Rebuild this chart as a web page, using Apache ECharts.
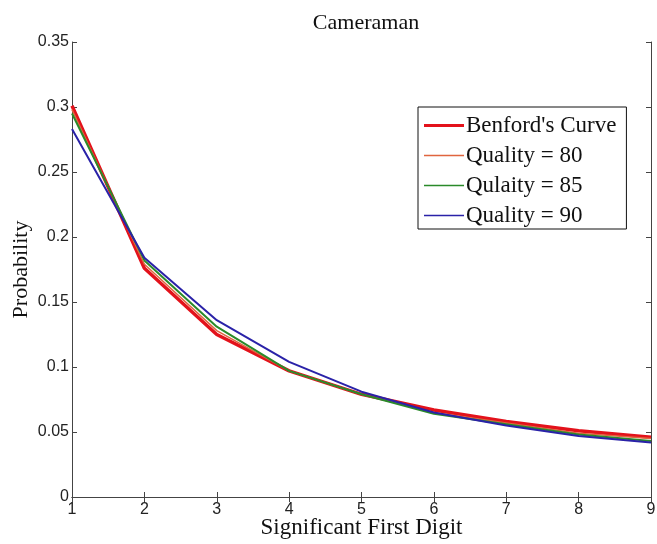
<!DOCTYPE html>
<html>
<head>
<meta charset="utf-8">
<script src="https://cdn.jsdelivr.net/npm/echarts@6/dist/echarts.min.js"></script>
<style>
  html, body { margin: 0; padding: 0; background: #fff; }
  #chart { width: 657px; height: 544px; }
</style>
</head>
<body>
<div id="chart"></div>
<script>
// first digits 1..9
const digits = [1, 2, 3, 4, 5, 6, 7, 8, 9]
const benford = [0.301, 0.176, 0.125, 0.097, 0.079, 0.067, 0.058, 0.051, 0.046]
const quality80 = [0.298, 0.179, 0.128, 0.097, 0.079, 0.065, 0.057, 0.049, 0.045]
const quality85 = [0.295, 0.182, 0.131, 0.097, 0.079, 0.064, 0.056, 0.048, 0.043]
const quality90 = [0.283, 0.184, 0.136, 0.104, 0.081, 0.065, 0.055, 0.047, 0.042]
const seriesNames = ["Benford's Curve", 'Quality = 80', 'Qulaity = 85', 'Quality = 90']

const pairs = vals => digits.map((d, i) => [d, vals[i]])

// legend line samples: invisible top/bottom strokes keep the band thin
const thickLine = 'path://M0,0L40,0Z M0,5.5L40,5.5L40,8.5L0,8.5Z M0,14L40,14Z'
const thinLine = 'path://M0,0L40,0Z M0,6.2L40,6.2L40,7.8L0,7.8Z M0,14L40,14Z'

const chart = echarts.init(document.getElementById('chart'))

const tickLabel = { color: '#222', fontFamily: 'Liberation Sans', fontSize: 16 }
const axisLine = { show: true, lineStyle: { color: '#444', width: 1 } }
const axisTick = { show: true, inside: true, length: 5, lineStyle: { color: '#444' } }

const option = {
  animation: false,
  backgroundColor: '#fff',
  title: {
    text: 'Cameraman',
    left: 361,
    top: 7,
    textAlign: 'center',
    textStyle: { fontFamily: 'Liberation Serif', fontSize: 22, fontWeight: 'normal', color: '#111' }
  },
  grid: { left: 72, right: 6, top: 42, bottom: 47, outerBoundsMode: 'none' },
  legend: {
    orient: 'vertical',
    left: 418,
    top: 107,
    padding: [7, 10, 2, 6],
    itemWidth: 40,
    itemHeight: 14,
    itemGap: 7,
    backgroundColor: '#fff',
    borderColor: '#111',
    borderWidth: 1,
    data: seriesNames.map((name, i) => ({ name, icon: i === 0 ? thickLine : thinLine })),
    textStyle: { fontFamily: 'Liberation Serif', fontSize: 23, color: '#111', padding: [0, 0, 0, -3] }
  },
  xAxis: [{
    type: 'value', min: 1, max: 9, interval: 1,
    name: 'Significant First Digit', nameLocation: 'middle', nameGap: 19, nameMoveOverlap: false,
    nameTextStyle: { fontFamily: 'Liberation Serif', fontSize: 23, color: '#111' },
    axisLine, axisTick, splitLine: { show: false },
    axisLabel: Object.assign({ margin: 5 }, tickLabel)
  }, {
    type: 'value', min: 1, max: 9, interval: 1, position: 'top',
    axisLine, axisTick, splitLine: { show: false }, axisLabel: { show: false }
  }],
  yAxis: [{
    type: 'value', min: 0, max: 0.35, interval: 0.05,
    name: 'Probability', nameLocation: 'middle', nameGap: 40, nameMoveOverlap: false,
    nameTextStyle: { fontFamily: 'Liberation Serif', fontSize: 22, color: '#111' },
    axisLine, axisTick, splitLine: { show: false },
    axisLabel: Object.assign({ margin: 3, formatter: v => String(+v.toFixed(2)) }, tickLabel)
  }, {
    type: 'value', min: 0, max: 0.35, interval: 0.05, position: 'right',
    axisLine, axisTick, splitLine: { show: false }, axisLabel: { show: false }
  }],
  series: [
    { name: seriesNames[0], type: 'line', symbol: 'none', data: pairs(benford),
      lineStyle: { color: '#e3121b', width: 3.5 }, itemStyle: { color: '#e3121b' } },
    { name: seriesNames[1], type: 'line', symbol: 'none', data: pairs(quality80),
      lineStyle: { color: '#e0653f', width: 1.5 }, itemStyle: { color: '#e0653f' } },
    { name: seriesNames[2], type: 'line', symbol: 'none', data: pairs(quality85),
      lineStyle: { color: '#2a8a2a', width: 2 }, itemStyle: { color: '#2a8a2a' } },
    { name: seriesNames[3], type: 'line', symbol: 'none', data: pairs(quality90),
      lineStyle: { color: '#2a22a8', width: 2 }, itemStyle: { color: '#2a22a8' } }
  ]
}

chart.setOption(option)
</script>
</body>
</html>
